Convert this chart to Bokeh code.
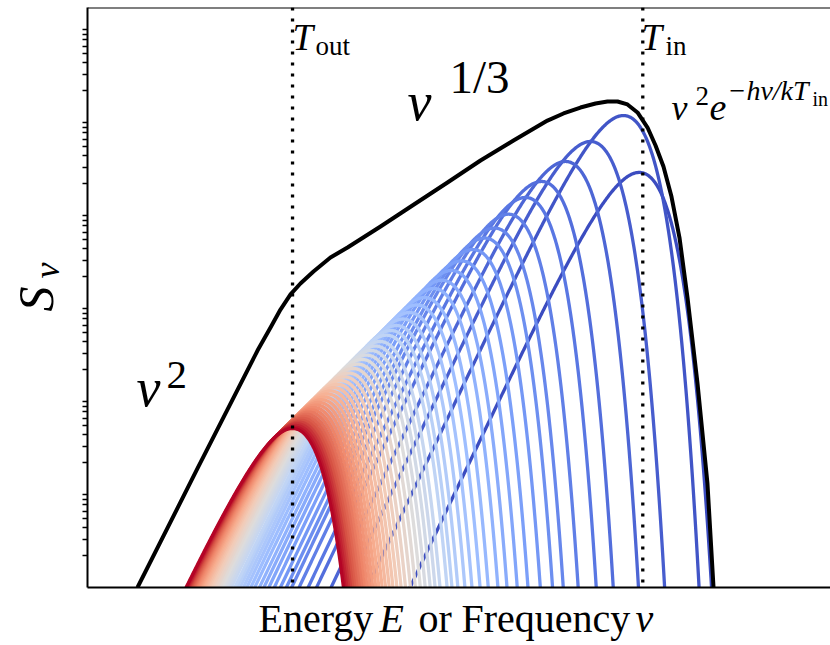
import numpy as np
from bokeh.plotting import figure
from bokeh.layouts import row, column
from bokeh.models import Range1d, FixedTicker, Span, Label, ColumnDataSource
from bokeh.embed import file_html
from bokeh.resources import INLINE

# ---- data (log10 units, arbitrary) ----
# per-annulus blackbody: log10 of peak frequency and log10 of peak flux (inner/hot first, outer/cool last)
peak_log_nu = [6.27, 6.091, 5.716, 5.432, 5.159, 4.977, 4.784, 4.625, 4.511, 4.381,
               4.250, 4.136, 4.028, 3.932, 3.830, 3.744, 3.659, 3.585, 3.511, 3.449,
               3.398, 3.324, 3.273, 3.222, 3.170, 3.119, 3.068, 3.017, 2.966, 2.920,
               2.877, 2.836, 2.798, 2.760, 2.725, 2.691, 2.659, 2.628, 2.599, 2.570,
               2.543, 2.517, 2.492, 2.468, 2.445, 2.424, 2.403, 2.383, 2.364, 2.345, 2.330]
peak_log_S = [4.42, 5.032, 4.753, 4.538, 4.323, 4.151, 3.971, 3.822, 3.715, 3.591,
              3.469, 3.366, 3.261, 3.172, 3.075, 2.995, 2.914, 2.844, 2.774, 2.720,
              2.670, 2.602, 2.553, 2.505, 2.456, 2.409, 2.359, 2.312, 2.263, 2.222,
              2.181, 2.142, 2.106, 2.071, 2.038, 2.005, 1.976, 1.947, 1.919, 1.892,
              1.867, 1.843, 1.819, 1.797, 1.775, 1.755, 1.735, 1.717, 1.699, 1.682, 1.667]
# total disk spectrum (black curve)
total_log_nu = [0.568, 1.250, 1.932, 2.080, 2.193, 2.307, 2.420, 2.568, 2.761, 2.955,
                3.330, 3.727, 4.091, 4.466, 4.841, 5.227, 5.409, 5.602, 5.773, 5.909,
                6.023, 6.136, 6.250, 6.364, 6.455, 6.545, 6.636, 6.727, 6.818, 6.932,
                7.045, 7.114]
total_log_S = [-0.043, 1.237, 2.505, 2.753, 2.946, 3.108, 3.226, 3.355, 3.505, 3.613,
               3.839, 4.086, 4.312, 4.548, 4.763, 4.978, 5.054, 5.118, 5.161, 5.183,
               5.183, 5.151, 5.065, 4.903, 4.710, 4.484, 4.161, 3.720, 3.075, 2.151,
               1.075, -0.043]
log_nu_T_out = 2.33
log_nu_T_in = 6.31

# ---- layout constants (page pixels) ----
YLAB_W = 75
MAIN_W, MAIN_H = 830 - YLAB_W, 590
XLAB_H = 645 - MAIN_H
BL, BT, BB = 12, 7, 3
FW, FH = MAIN_W - BL, MAIN_H - BT - BB     # 743 x 580
PXD_X, PXD_Y = 88.0, 93.0
FRAME_L = YLAB_W + BL        # 87
FRAME_T = BT                 # 7
FRAME_B = BT + FH            # 587
DEC0_Y = 583                 # page y of S = 1
X0 = 0.0
Y0 = (DEC0_Y - FRAME_B) / PXD_Y
X1 = X0 + FW / PXD_X
Y1 = Y0 + FH / PXD_Y
FONT = "Liberation Serif"
MID = 0.3   # label anchor sits at the text's middle: baseline - MID*size


def coolwarm(t):
    anchors = ['#3b4cc0', '#5977e3', '#7b9ff9', '#9ebeff', '#c0d4f5', '#dddcdc',
               '#f2cbb7', '#f7ac8e', '#ee8468', '#d65244', '#b40426']
    rgb = [tuple(int(a[k:k + 2], 16) for k in (1, 3, 5)) for a in anchors]
    s = t * (len(rgb) - 1)
    i = min(int(s), len(rgb) - 2)
    f = s - i
    c = [round(rgb[i][j] * (1 - f) + rgb[i + 1][j] * f) for j in range(3)]
    return '#%02x%02x%02x' % tuple(c)


p = figure(width=MAIN_W, height=MAIN_H, x_axis_type="log", y_axis_type="log",
           x_range=Range1d(10 ** X0, 10 ** X1), y_range=Range1d(10 ** Y0, 10 ** Y1),
           output_backend="svg", toolbar_location=None,
           min_border_left=BL, min_border_right=0, min_border_top=BT, min_border_bottom=BB)
p.outline_line_color = None
p.xgrid.visible = False
p.ygrid.visible = False

minor = [k * 10.0 ** n for n in range(-1, 7) for k in range(2, 10)]
p.yaxis.ticker = FixedTicker(ticks=[], minor_ticks=minor)
p.yaxis.major_tick_line_color = None
p.yaxis.major_tick_out = 0
p.yaxis.major_tick_in = 0
p.yaxis.minor_tick_in = 0
p.yaxis.minor_tick_out = 5
p.yaxis.minor_tick_line_width = 1.5
p.yaxis.minor_tick_line_color = "black"
p.yaxis.axis_line_width = 2
p.yaxis.major_label_standoff = 0
p.yaxis.major_label_text_font_size = "0px"
p.xaxis.ticker = FixedTicker(ticks=[])
p.xaxis.major_tick_line_color = None
p.xaxis.minor_tick_line_color = None
p.xaxis.major_tick_out = 0
p.xaxis.minor_tick_out = 0
p.xaxis.major_label_standoff = 0
p.xaxis.axis_line_width = 2
p.xaxis.major_label_text_font_size = "0px"

# ---- annulus spectra (Planck shape through each read peak) ----
grid = np.linspace(-0.5, 9.0, 1400)
XP = 2.8214393721
fpk = XP ** 3 / np.expm1(XP)
xs, ys, cols = [], [], []
n = len(peak_log_nu)
for i, (lp, lh) in enumerate(zip(peak_log_nu, peak_log_S)):
    x = XP * 10 ** (grid - lp)
    f = x ** 3 / np.expm1(np.minimum(x, 700))
    s = np.maximum(10 ** lh * f / fpk, 1e-2)
    xs.append(10 ** grid)
    ys.append(s)
    cols.append(coolwarm(i / (n - 1)))
p.multi_line(xs="xs", ys="ys", line_color="c", line_width=3.3,
             source=ColumnDataSource(dict(xs=xs, ys=ys, c=cols)))

p.line(10 ** np.array(total_log_nu), 10 ** np.array(total_log_S),
       line_color="black", line_width=4, line_join="round")

for v in (log_nu_T_out, log_nu_T_in):
    p.add_layout(Span(location=10 ** v, dimension="height", line_color="black",
                      line_width=3.3, line_dash="3 8"))
p.add_layout(Span(location=10 ** Y1, dimension="width", line_color="black", line_width=2))


def lbl_main(text, px, py, size, italic=False):
    x = 10 ** ((px - FRAME_L) / PXD_X + X0)
    y = 10 ** ((DEC0_Y - (py - MID * size)) / PXD_Y)
    p.add_layout(Label(x=x, y=y, text=text, text_font=FONT,
                       text_font_size="%dpx" % size,
                       text_font_style="italic" if italic else "normal",
                       text_align="left", text_baseline="alphabetic", text_color="black"))


# T markers
lbl_main("T", 292, 48, 37, italic=True)
lbl_main("out", 315, 54, 27)
lbl_main("T", 641, 48, 37, italic=True)
lbl_main("in", 665, 54, 27)
# power-law annotations
lbl_main("ν", 407, 118, 54, italic=True)
lbl_main("1/3", 449, 91, 47)
lbl_main("ν", 136, 404, 54, italic=True)
lbl_main("2", 166, 387, 41)
lbl_main("ν", 671, 118, 36, italic=True)
lbl_main("2", 695, 104, 27)
lbl_main("e", 709, 118, 38, italic=True)
lbl_main("−hν/kT", 727, 98, 28, italic=True)
lbl_main("in", 812, 104, 20)


def text_fig(w, h, xr, yr, **borders):
    f = figure(width=w, height=h, x_range=Range1d(0, xr), y_range=Range1d(0, yr),
               x_axis_location=None, y_axis_location=None, toolbar_location=None,
               output_backend="svg", min_border=0, **borders)
    f.outline_line_color = None
    f.grid.visible = False
    return f


# y-label panel: frame spans page y FRAME_T..FRAME_B, x 0..YLAB_W
ylab = text_fig(YLAB_W, MAIN_H, YLAB_W, FH, min_border_top=BT, min_border_bottom=BB)
# x-label panel: frame spans page x FRAME_L..830, y MAIN_H..645
xlab = text_fig(MAIN_W, XLAB_H, FW, XLAB_H, min_border_left=BL)


def ylabel(text, bx, py, size, italic=False):
    # rotated 90 deg ccw; bx = page x of the baseline, py = page y where text starts
    ylab.add_layout(Label(x=bx - MID * size, y=FRAME_B - py, text=text, text_font=FONT,
                          text_font_size="%dpx" % size,
                          text_font_style="italic" if italic else "normal",
                          text_align="left", text_baseline="alphabetic",
                          text_color="black", angle=np.pi / 2))


def xlabel(text, px, py, size, italic=False):
    xlab.add_layout(Label(x=px - FRAME_L, y=645 - (py - MID * size),
                          text=text, text_font=FONT, text_font_size="%dpx" % size,
                          text_font_style="italic" if italic else "normal",
                          text_align="left", text_baseline="alphabetic",
                          text_color="black"))


ylabel("S", 50, 311, 50, italic=True)
ylabel("ν", 57, 278, 36, italic=True)

xlabel("Energy", 258, 630, 40)
xlabel("E", 379, 630, 40, italic=True)
xlabel("or", 418, 630, 40)
xlabel("Frequency", 461, 630, 40)
xlabel("ν", 635, 630, 40, italic=True)

layout = row(ylab, column(p, xlab, spacing=0), spacing=0)
open("out.html", "w").write(file_html(layout, INLINE))
